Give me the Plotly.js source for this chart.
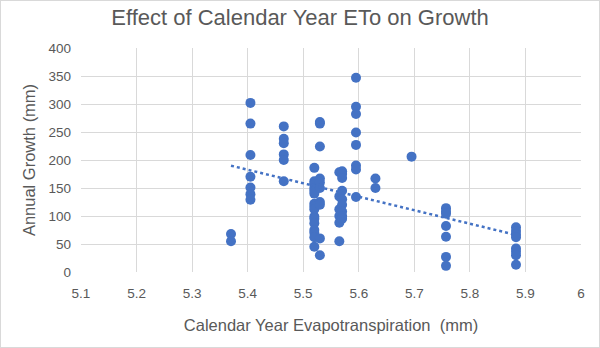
<!DOCTYPE html>
<html>
<head>
<meta charset="utf-8">
<script src="https://cdn.plot.ly/plotly-3.0.1.min.js"></script>
<style>
  html, body { margin: 0; padding: 0; background: #fff; }
  #wrap { width: 600px; height: 348px; box-sizing: border-box; border: 1px solid #d9d9d9; position: relative; overflow: hidden; }
  #chart { position: absolute; left: -1px; top: -1px; width: 600px; height: 348px; }
</style>
</head>
<body>
<div id="wrap"><div id="chart"></div></div>
<script>
// Calendar-year ETo (mm) for each observation
const etoValues = [
  5.37, 5.37,
  5.405, 5.405, 5.405, 5.405, 5.405, 5.405, 5.405,
  5.465, 5.465, 5.465, 5.465, 5.465, 5.465,
  5.52, 5.52, 5.52, 5.52, 5.52, 5.52, 5.52, 5.52, 5.52, 5.52, 5.52, 5.52, 5.52, 5.52, 5.52, 5.52,
  5.53, 5.53, 5.53, 5.53, 5.53, 5.53, 5.53, 5.53, 5.53, 5.53,
  5.565, 5.565, 5.565, 5.565, 5.565, 5.565,
  5.57, 5.57, 5.57, 5.57, 5.57, 5.57, 5.57, 5.57, 5.57,
  5.595, 5.595, 5.595, 5.595, 5.595, 5.595, 5.595, 5.595,
  5.63, 5.63,
  5.695,
  5.757, 5.757, 5.757, 5.757, 5.757, 5.757, 5.757,
  5.883, 5.883, 5.883, 5.883, 5.883, 5.883, 5.883, 5.883
];
// Annual growth (mm) for each observation
const growthValues = [
  68, 55,
  302, 265, 209, 170, 151, 139, 129,
  260, 238, 230, 210, 200, 162,
  186, 162, 157, 150, 145, 140, 122, 117, 112, 99, 95, 87, 75, 70, 62, 45,
  268, 265, 224, 167, 160, 150, 125, 120, 60, 30,
  178, 135, 112, 100, 88, 55,
  180, 175, 168, 145, 130, 120, 108, 100, 95,
  347, 295, 282, 249, 227, 190, 183, 134,
  167, 150,
  206,
  114, 108, 104, 82, 63, 27, 11,
  80, 73, 67, 62, 42, 36, 30, 13
];
const xTickValues = [5.1, 5.2, 5.3, 5.4, 5.5, 5.6, 5.7, 5.8, 5.9, 6];
const xTickLabels = ["5.1", "5.2", "5.3", "5.4", "5.5", "5.6", "5.7", "5.8", "5.9", "6"];

// Linear trendline (least squares) over the observed range
const n = etoValues.length;
const mx = etoValues.reduce((a, b) => a + b, 0) / n;
const my = growthValues.reduce((a, b) => a + b, 0) / n;
let sxy = 0, sxx = 0;
for (let i = 0; i < n; i++) { sxy += (etoValues[i] - mx) * (growthValues[i] - my); sxx += (etoValues[i] - mx) ** 2; }
const slope = sxy / sxx, intercept = my - slope * mx;
const xMin = Math.min(...etoValues), xMax = Math.max(...etoValues);
const trendX = [xMin, xMax];
const trendY = trendX.map(x => intercept + slope * x);

const blue = "#4472C4";
const grey = "#595959";
const font = "Liberation Sans, Arial, sans-serif";

Plotly.newPlot("chart", [
  { x: etoValues, y: growthValues, type: "scatter", mode: "markers",
    marker: { color: blue, size: 10, line: { width: 0 } }, hoverinfo: "x+y" },
  { x: trendX, y: trendY, type: "scatter", mode: "lines",
    line: { color: blue, width: 2.5, dash: "dot" }, hoverinfo: "skip" }
], {
  width: 600, height: 348,
  margin: { l: 81, r: 19, t: 48, b: 76 },
  paper_bgcolor: "#ffffff", plot_bgcolor: "#ffffff",
  showlegend: false,
  font: { family: font, color: grey, size: 13.5 },
  title: { text: "Effect of Calendar Year ETo on Growth", x: 0.5, xanchor: "center",
           y: 0.95, yanchor: "middle", font: { family: font, size: 22, color: grey } },
  xaxis: {
    range: [5.1, 6], tickvals: xTickValues, ticktext: xTickLabels,
    showgrid: true, gridcolor: "#d9d9d9", gridwidth: 1, zeroline: false,
    showline: false, ticks: "", ticklabelstandoff: 11, tickfont: { size: 13.5, color: grey },
    title: { text: "Calendar Year Evapotranspiration  (mm)", standoff: 19, font: { size: 16.5, color: grey } }
  },
  yaxis: {
    range: [0, 400], dtick: 50, tick0: 0,
    showgrid: true, gridcolor: "#d9d9d9", gridwidth: 1, zeroline: false,
    showline: false, ticks: "", ticklabelstandoff: 9, tickfont: { size: 13.5, color: grey },
    title: { text: "Annual Growth (mm)", standoff: 8, font: { size: 16.5, color: grey } }
  }
}, { displayModeBar: false, staticPlot: true });
</script>
</body>
</html>
